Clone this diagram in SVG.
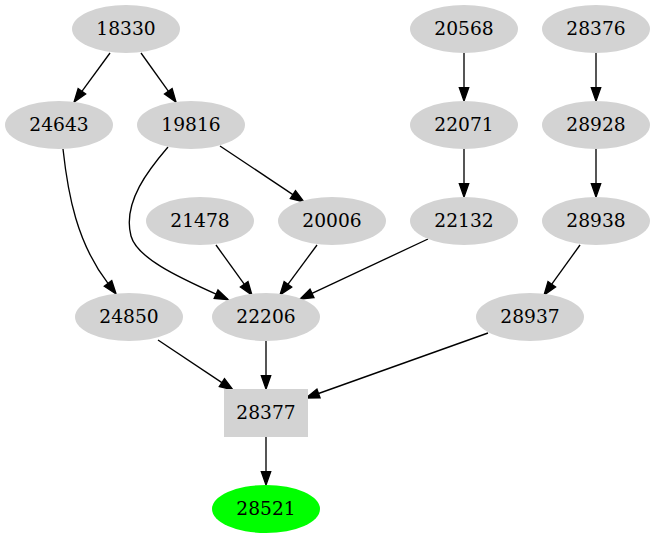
<svg xmlns="http://www.w3.org/2000/svg" width="655" height="539" viewBox="0 0 655 539">
<style>
.n ellipse, .n rect { fill: #d3d3d3; stroke: none; }
.n text { font-family: "DejaVu Serif", "Liberation Serif", serif; font-size: 18.67px; text-anchor: middle; fill: #000; }
#edges path { fill: none; stroke: #000; stroke-width: 1.33; marker-end: url(#ah); }
</style>
<defs>
<marker id="ah" markerUnits="userSpaceOnUse" markerWidth="16" markerHeight="12" refX="0" refY="0" viewBox="0 -6 16 12" orient="auto" overflow="visible">
<path d="M0,-4.67 L13.3,0 L0,4.67 z" fill="#000" stroke="#000" stroke-width="1.33"/>
</marker>
</defs>
<rect width="655" height="539" fill="#fff"/>
<g id="edges">
<path d="M110,53 L81.9,91.3"/>
<path d="M141,53 L168.3,91.2"/>
<path d="M220,146 L292.9,194.6"/>
<path d="M216,245 L244.2,284.2"/>
<path d="M317,245 L287.9,284.3"/>
<path d="M428,239 L312,293.4"/>
<path d="M464,53 L464,87.7"/>
<path d="M464,149 L464,183.7"/>
<path d="M596,53 L596,87.7"/>
<path d="M596,149 L596,183.7"/>
<path d="M266,341 L266,375.7"/>
<path d="M266,437 L266,471.7"/>
<path d="M580,245 L551.8,284.2"/>
<path d="M158,340 L221.9,382.6"/>
<path d="M488,333 L318.5,393.5"/>
<path d="M63,149 C68,195 77,243 108,283.4"/>
<path d="M168,147 C150,168 122,202 131,236 C137,258 178,277 216.1,294.2"/>
</g>
<g id="n18330" class="n"><ellipse cx="126" cy="29" rx="54" ry="24"/><text x="126" y="34.5">18330</text></g>
<g id="n20568" class="n"><ellipse cx="464" cy="29" rx="54" ry="24"/><text x="464" y="34.5">20568</text></g>
<g id="n28376" class="n"><ellipse cx="596" cy="29" rx="54" ry="24"/><text x="596" y="34.5">28376</text></g>
<g id="n24643" class="n"><ellipse cx="59" cy="125" rx="54" ry="24"/><text x="59" y="130.5">24643</text></g>
<g id="n19816" class="n"><ellipse cx="191" cy="125" rx="54" ry="24"/><text x="191" y="130.5">19816</text></g>
<g id="n22071" class="n"><ellipse cx="464" cy="125" rx="54" ry="24"/><text x="464" y="130.5">22071</text></g>
<g id="n28928" class="n"><ellipse cx="596" cy="125" rx="54" ry="24"/><text x="596" y="130.5">28928</text></g>
<g id="n21478" class="n"><ellipse cx="200" cy="221" rx="54" ry="24"/><text x="200" y="226.5">21478</text></g>
<g id="n20006" class="n"><ellipse cx="332" cy="221" rx="54" ry="24"/><text x="332" y="226.5">20006</text></g>
<g id="n22132" class="n"><ellipse cx="464" cy="221" rx="54" ry="24"/><text x="464" y="226.5">22132</text></g>
<g id="n28938" class="n"><ellipse cx="596" cy="221" rx="54" ry="24"/><text x="596" y="226.5">28938</text></g>
<g id="n24850" class="n"><ellipse cx="129" cy="317" rx="54" ry="24"/><text x="129" y="322.5">24850</text></g>
<g id="n22206" class="n"><ellipse cx="266" cy="317" rx="54" ry="24"/><text x="266" y="322.5">22206</text></g>
<g id="n28937" class="n"><ellipse cx="530" cy="317" rx="54" ry="24"/><text x="530" y="322.5">28937</text></g>
<g id="n28377" class="n"><rect x="224" y="389" width="84" height="48"/><text x="266" y="418.5">28377</text></g>
<g id="n28521" class="n"><ellipse cx="266" cy="509" rx="54" ry="24" style="fill:#00ff00"/><text x="266" y="514.5">28521</text></g>
</svg>
